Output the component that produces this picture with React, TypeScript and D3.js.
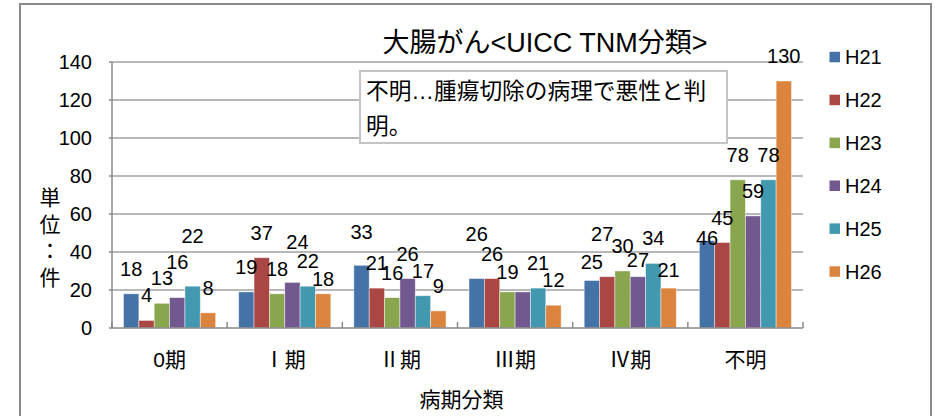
import React from 'react';
import * as d3 from 'd3';

const categories = ['0期', 'Ⅰ期', 'Ⅱ期', 'Ⅲ期', 'Ⅳ期', '不明'];
const seriesNames = ['H21', 'H22', 'H23', 'H24', 'H25', 'H26'];
const H21 = [18, 19, 33, 26, 25, 46];
const H22 = [4, 37, 21, 26, 27, 45];
const H23 = [13, 18, 16, 19, 30, 78];
const H24 = [16, 24, 26, 19, 27, 59];
const H25 = [22, 22, 17, 21, 34, 78];
const H26 = [8, 18, 9, 12, 21, 130];
const seriesValues = [H21, H22, H23, H24, H25, H26];
const yTicks = [0, 20, 40, 60, 80, 100, 120, 140];
const colors = ['#4572A7', '#AA4643', '#89A54E', '#71588F', '#4198AF', '#DB843D'];

// manual label placement tweaks (pixels), as in the original chart
const labelLift = [
  [0, 0, 8, 20, -6, -22],
  [0, 0, 0, 0, 18, 0],
  [0, 0, 0, -5, 0, 0],
  [11, 15, 0, 0, -8, 0],
  [25, 0, 0, 0, 0, 0],
  [0, -10, 0, 0, -7, 0],
];
const labelShift = [
  [0, 0, 0, 0, 0, 0],
  [0, 0, 0, 0, -5, 0],
  [0, 0, 0, 0, 0, 0],
  [0, 5, 0, 0, 0, 0],
  [0, 0, 0, 0, 0, 0],
  [0, 0, 0, 0, 0, 0],
];
const hiddenLabels = [['H24', 'Ⅲ期']];

const title = '大腸がん<UICC TNM分類>';
const noteLines = ['不明…腫瘍切除の病理で悪性と判', '明。'];
const yLabelChars = ['単', '位', '：', '件'];
const xTitle = '病期分類';

const FONT = '"Liberation Sans", Arial, "Noto Sans CJK JP", sans-serif';

export default function App() {
  const W = 940, H = 416;
  const left = 112, right = 803, top = 62, bottom = 328;
  const x0 = d3.scaleBand<string>().domain(categories).range([left, right]).paddingInner(0).paddingOuter(0);
  const x1 = d3.scaleBand<string>().domain(seriesNames).range([0, x0.bandwidth()]).paddingInner(0).paddingOuter(0.75);
  const y = d3.scaleLinear().domain([0, 140]).range([bottom, top]);

  const isHidden = (s: string, c: string) => hiddenLabels.some(([a, b]) => a === s && b === c);

  return (
    <svg width={W} height={H} style={{ position: 'absolute', left: 0, top: 0, background: '#fff' }} fontFamily={FONT}>
      <rect x={0} y={0} width={W} height={H} fill="#fff" />
      <rect x={20} y={4} width={911} height={430} fill="none" stroke="#8a8a8a" strokeWidth={2} />

      {/* gridlines */}
      {yTicks.filter(t => t > 0).map(t => (
        <line key={t} x1={left} x2={right} y1={y(t)} y2={y(t)} stroke="#a0a0a0" strokeWidth={1.5} />
      ))}

      {/* note box */}
      <rect x={360} y={71} width={367} height={72} fill="#fff" stroke="#c4c4c4" strokeWidth={2} />
      {noteLines.map((t, i) => (
        <text key={i} x={366} y={98.5 + i * 35} fontSize={22.7} fill="#000">{t}</text>
      ))}

      {/* bars */}
      {seriesNames.map((s, si) => (
        <g key={s}>
          {categories.map((c, ci) => {
            const v = seriesValues[si][ci];
            return (
              <rect key={c} x={(x0(c) as number) + (x1(s) as number)} y={y(v)}
                width={x1.bandwidth()} height={y(0) - y(v)} fill={colors[si]}
                stroke="#ffffff" strokeOpacity={0.55} strokeWidth={0.8} />
            );
          })}
        </g>
      ))}

      {/* axes */}
      <line x1={left} x2={left} y1={top} y2={bottom} stroke="#8a8a8a" strokeWidth={1.5} />
      <line x1={left} x2={right} y1={bottom} y2={bottom} stroke="#8a8a8a" strokeWidth={1.5} />
      {d3.range(categories.length + 1).map(i => {
        const xx = left + i * x0.step();
        return <line key={i} x1={xx} x2={xx} y1={bottom - 6} y2={bottom} stroke="#8a8a8a" strokeWidth={1.5} />;
      })}
      {yTicks.map(t => (
        <line key={'yt' + t} x1={left - 3} x2={left} y1={y(t)} y2={y(t)} stroke="#8a8a8a" strokeWidth={1.5} />
      ))}

      {/* y tick labels */}
      {yTicks.map(t => (
        <text key={'yl' + t} x={92} y={y(t) + 7} fontSize={20} textAnchor="end" fill="#000">{t}</text>
      ))}

      {/* data labels */}
      {seriesNames.map((s, si) => (
        <g key={'lab' + s}>
          {categories.map((c, ci) => {
            if (isHidden(s, c)) return null;
            const v = seriesValues[si][ci];
            const cx = (x0(c) as number) + (x1(s) as number) + x1.bandwidth() / 2 + labelShift[si][ci];
            const cy = y(v) - 25 - labelLift[si][ci];
            return (
              <text key={c} x={cx} y={cy + 7} fontSize={20} textAnchor="middle" fill="#000">{v}</text>
            );
          })}
        </g>
      ))}

      {/* category labels */}
      {categories.map(c => (
        <text key={'cat' + c} x={(x0(c) as number) + x0.bandwidth() / 2} y={367} fontSize={21} textAnchor="middle" fill="#000">{c}</text>
      ))}

      {/* axis titles */}
      <text x={(left + right) / 2 + 4} y={407} fontSize={21} textAnchor="middle" fill="#000">{xTitle}</text>
      {yLabelChars.map((ch, i) => (
        <text key={'yc' + i} x={50} y={205 + i * 26.7} fontSize={21} textAnchor="middle" fill="#000">{ch}</text>
      ))}

      {/* title */}
      <text x={545} y={51.5} fontSize={27} textAnchor="middle" fill="#000">{title}</text>

      {/* legend */}
      {seriesNames.map((s, i) => {
        const cy = 57.3 + i * 42.9;
        return (
          <g key={'lg' + s}>
            <rect x={829.5} y={cy - 5.5} width={10.5} height={10.5} fill={colors[i]} />
            <text x={845} y={cy + 7} fontSize={20} fill="#000">{s}</text>
          </g>
        );
      })}
    </svg>
  );
}
